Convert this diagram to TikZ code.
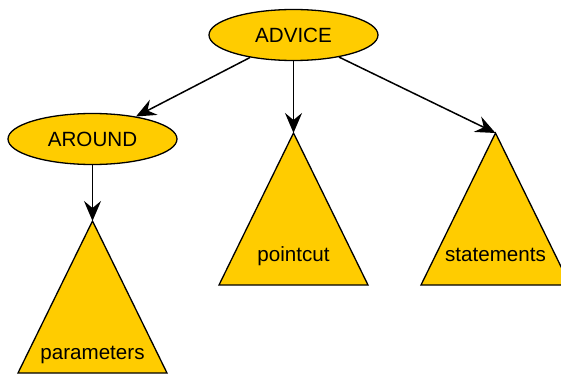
\documentclass[tikz,border=0pt]{standalone}
\usepackage{fontspec}
\setmainfont{Liberation Sans}
\usetikzlibrary{shapes.geometric,arrows.meta}
\definecolor{gold}{RGB}{255,204,0}
\tikzset{
  ovalnode/.style={ellipse, draw=black, fill=gold, line width=1.3pt,
    minimum width=169pt, minimum height=51pt, inner sep=0pt,
    font=\fontsize{20.6}{24}\selectfont},
  treetri/.style={draw=black, fill=gold, line width=1.3pt, line join=miter},
  trilabel/.style={inner sep=0pt, font=\fontsize{20.6}{24}\selectfont},
  link/.style={line width=1.5pt, -{Stealth[length=20pt, width=17pt, inset=7pt]}}
}
\begin{document}
\begin{tikzpicture}[x=1pt, y=-1pt]
  \useasboundingbox (0,0) rectangle (561,374);

  % tree root and inner node
  \node[ovalnode] (advice) at (293.5,35) {ADVICE};
  \node[ovalnode] (around) at (92.5,139) {AROUND};

  % subtree triangles, apex coordinates used as arrow targets
  \coordinate (paramtop) at (92.5,221);
  \path[treetri] (paramtop) -- (167,373) -- (18,373) -- cycle;
  \node[trilabel] (params) at (92.5,355) {parameters};

  \coordinate (pointtop) at (293.5,133);
  \path[treetri] (pointtop) -- (368,285) -- (219,285) -- cycle;
  \node[trilabel] (pointcut) at (293.5,256) {pointcut};

  \coordinate (stmttop) at (495.5,133);
  \path[treetri] (stmttop) -- (570,285) -- (421,285) -- cycle;
  \node[trilabel] (stmts) at (495.5,255) {statements};

  % connectors
  \draw[link] (advice) -- (around);
  \draw[link] (advice) -- (pointtop);
  \draw[link] (advice) -- (stmttop);
  \draw[link] (around) -- (paramtop);
\end{tikzpicture}
\end{document}
